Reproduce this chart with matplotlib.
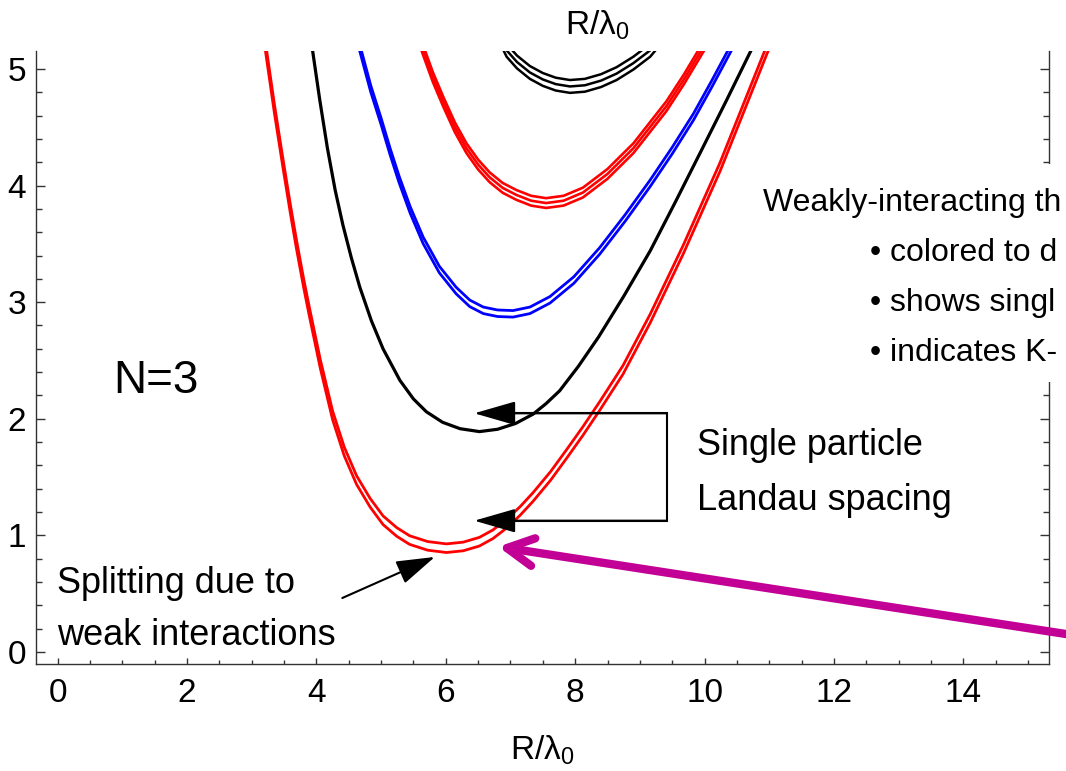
import matplotlib
matplotlib.use("Agg")
import matplotlib.pyplot as plt
from matplotlib.patches import FancyArrowPatch, Rectangle
from matplotlib.ticker import MultipleLocator

plt.rcParams["font.family"] = ["Liberation Sans", "DejaVu Sans"]
plt.rcParams["mathtext.default"] = "regular"

W, H = 1066, 771

# ── Level curves (R/λ0 , E) ───────────────────────────────────────────────────
# lowest band (red, split in two)
red1_R = [3.18, 3.22, 3.35, 3.48, 3.60, 3.69, 3.80, 3.89, 4.06, 4.25, 4.43, 4.62,
          4.83, 5.03, 5.24, 5.44, 5.72, 6.01, 6.27, 6.52, 6.73, 6.94, 7.15, 7.35,
          7.62, 7.87, 8.12, 8.38, 8.74, 9.16, 9.67, 10.24, 10.96, 11.08]
red1_E = [5.32, 5.16, 4.66, 4.20, 3.79, 3.50, 3.17, 2.92, 2.47, 2.03, 1.72, 1.475,
          1.28, 1.13, 1.03, 0.96, 0.91, 0.89, 0.905, 0.946, 1.01, 1.10, 1.21, 1.33,
          1.51, 1.70, 1.895, 2.11, 2.42, 2.86, 3.45, 4.16, 5.16, 5.32]
red1_split = [-0.037, 0.037]

# second band (black, single)
black1_R = [3.90, 3.94, 4.05, 4.17, 4.29, 4.41, 4.54, 4.67, 4.85, 5.03, 5.29, 5.50,
            5.70, 5.95, 6.22, 6.52, 6.80, 7.08, 7.35, 7.55, 7.76, 8.05, 8.36, 8.75,
            9.16, 9.55, 9.95, 10.33, 10.72, 10.86]
black1_E = [5.32, 5.16, 4.74, 4.32, 3.96, 3.66, 3.38, 3.13, 2.84, 2.60, 2.33, 2.17,
            2.06, 1.97, 1.915, 1.89, 1.91, 1.96, 2.04, 2.13, 2.24, 2.45, 2.70, 3.05,
            3.44, 3.86, 4.30, 4.72, 5.16, 5.32]
black1_split = [0.0]

# third band (blue, split in two)
blue_R = [4.60, 4.68, 4.84, 5.00, 5.14, 5.28, 5.45, 5.65, 5.90, 6.16, 6.37, 6.58,
          6.80, 7.04, 7.30, 7.61, 7.98, 8.38, 8.77, 9.16, 9.50, 9.83, 10.11, 10.39, 10.54]
blue_E = [5.32, 5.16, 4.83, 4.55, 4.29, 4.05, 3.79, 3.53, 3.28, 3.10, 2.99, 2.93,
          2.905, 2.90, 2.93, 3.02, 3.19, 3.44, 3.72, 4.02, 4.30, 4.59, 4.87, 5.16, 5.32]
blue_split = [-0.028, 0.028]

# fourth band (red, split in three)
red2_R = [5.55, 5.65, 5.80, 5.96, 6.14, 6.32, 6.50, 6.68, 6.88, 7.09, 7.32, 7.55,
          7.82, 8.12, 8.50, 8.90, 9.41, 9.68, 9.95, 10.12]
red2_E = [5.32, 5.16, 4.93, 4.72, 4.50, 4.32, 4.18, 4.07, 3.98, 3.92, 3.87, 3.85,
          3.87, 3.94, 4.10, 4.32, 4.68, 4.91, 5.16, 5.32]
red2_split = [-0.042, 0.0, 0.042]

# top band (black, split in three)
black2_R = [6.80, 6.94, 7.10, 7.30, 7.50, 7.70, 7.92, 8.15, 8.40, 8.64, 8.90, 9.16, 9.40]
black2_E = [5.32, 5.16, 5.06, 4.97, 4.91, 4.87, 4.85, 4.86, 4.90, 4.96, 5.05, 5.16, 5.32]
black2_split = [-0.055, 0.0, 0.055]

x_ticks = [0, 2, 4, 6, 8, 10, 12, 14]
y_ticks = [0, 1, 2, 3, 4, 5]

# side note, clipped by the slide edge in the original
note_title = "Weakly-interacting th"
note_bullets = ["• colored to d", "• shows singl", "• indicates K-"]

bands = [
    (red1_R, red1_E, red1_split, "#ff0000", 2.0),
    (black1_R, black1_E, black1_split, "black", 2.3),
    (blue_R, blue_E, blue_split, "#0000ff", 2.0),
    (red2_R, red2_E, red2_split, "#ff0000", 1.9),
    (black2_R, black2_E, black2_split, "black", 1.8),
]

# ── Figure ────────────────────────────────────────────────────────────────────
fig = plt.figure(figsize=(W / 100, H / 100), dpi=100)
ax = fig.add_axes([35.7 / W, 1 - 664 / H, (1049.3 - 35.7) / W, (664 - 51) / H])

for R, E, split, color, lw in bands:
    for off in split:
        ax.plot(R, [e + off for e in E], color=color, lw=lw, zorder=2,
                solid_joinstyle="round")

ax.set_xlim(-0.34, 15.33)
ax.set_ylim(-0.103, 5.154)
ax.set_xticks(x_ticks)
ax.set_yticks(y_ticks)
ax.xaxis.set_minor_locator(MultipleLocator(0.5))
ax.yaxis.set_minor_locator(MultipleLocator(0.2))
ax.tick_params(which="both", direction="in", top=False, right=True,
               color="#333333", width=1)
ax.tick_params(axis="x", which="major", length=4.5, pad=10, labelsize=24)
ax.tick_params(axis="x", which="minor", length=3)
ax.tick_params(axis="y", which="major", length=6.5, pad=7, labelsize=24)
ax.tick_params(axis="y", which="minor", length=4)
ax.spines["top"].set_visible(False)
for s in ["left", "right", "bottom"]:
    ax.spines[s].set_color("#333333")
    ax.spines[s].set_linewidth(1.0)

ax.set_xlabel("R/λ$_0$", fontsize=24)
ax.xaxis.set_label_coords(0.5, -(760 - 664) / (664 - 51))
ax.xaxis.label.set_verticalalignment("baseline")

# ── Annotations ───────────────────────────────────────────────────────────────
def fpx(x, y):
    return x / W, 1 - y / H

fig.text(*fpx(565, 35), "R/λ$_0$", fontsize=24, va="baseline")
fig.text(*fpx(113, 393), "N=3", fontsize=33, va="baseline")
fig.text(*fpx(57, 593), "Splitting due to", fontsize=26, va="baseline")
fig.text(*fpx(57, 645), "weak interactions", fontsize=26, va="baseline")
fig.text(*fpx(697, 455), "Single particle", fontsize=26, va="baseline")
fig.text(*fpx(697, 510), "Landau spacing", fontsize=26, va="baseline")

# white panel covering the right spine behind the side note
fig.add_artist(Rectangle(fpx(755, 382), 1, (382 - 164) / H, transform=fig.transFigure,
                         facecolor="white", edgecolor="none", zorder=2))
fig.text(*fpx(763, 211), note_title, fontsize=23, va="baseline", zorder=3)
for i, line in enumerate(note_bullets):
    fig.text(*fpx(870, 261 + 50 * i), line, fontsize=23, va="baseline", zorder=3)

# bracket with arrows pointing at the two lowest minima
ax.plot([6.9, 9.42, 9.42, 6.9], [2.047, 2.047, 1.126, 1.126], color="black",
        lw=1.5, solid_joinstyle="miter", zorder=3)
for y in [2.047, 1.126]:
    ax.add_patch(FancyArrowPatch((9.42, y), (6.44, y), mutation_scale=1,
                                 arrowstyle="-|>,head_length=26,head_width=7.5",
                                 color="black", lw=1.5, shrinkA=0, shrinkB=0, zorder=4))

ax.add_patch(FancyArrowPatch((4.40, 0.463), (5.83, 0.815), mutation_scale=1,
                             arrowstyle="-|>,head_length=24,head_width=7.5",
                             color="black", lw=1.5, shrinkA=0, shrinkB=0, zorder=4))

ax.add_patch(FancyArrowPatch((16.89, 0.043), (6.81, 0.903), mutation_scale=1,
                             arrowstyle="->,head_length=19,head_width=10",
                             color="#c20096", lw=6, capstyle="round", joinstyle="round",
                             shrinkA=0, shrinkB=0, zorder=5, clip_on=False))

fig.savefig("out.png", dpi=100)
